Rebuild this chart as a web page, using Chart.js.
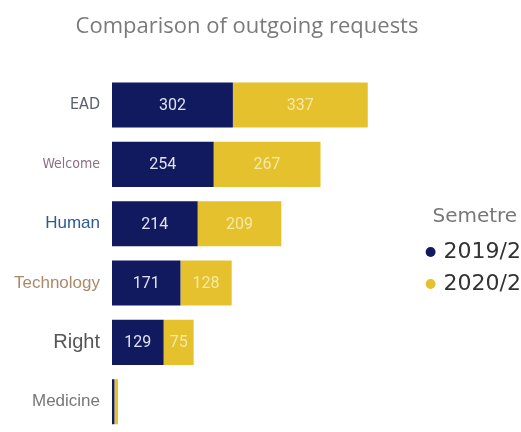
<!DOCTYPE html>
<html>
<head>
<meta charset="utf-8">
<script src="https://cdn.jsdelivr.net/npm/chart.js@4"></script>
<style>
  html, body { margin: 0; padding: 0; background: #fff; overflow: hidden; }
  #wrap { position: relative; width: 531px; height: 445px; }
</style>
</head>
<body>
<div id="wrap"><canvas id="requestsChart"></canvas></div>
<script>
// outgoing requests per area, by semester
const categories = ['EAD', 'Welcome', 'Human', 'Technology', 'Right', 'Medicine'];
const semesters = ['2019/2', '2020/2'];
const requests2019 = [302, 254, 214, 171, 129, 6];
const requests2020 = [337, 267, 209, 128, 75, 9];

// each area label has its own look
const tickColors = ['#5a6070', '#8b6f86', '#2e5b8f', '#a88a68', '#555555', '#777777'];
const tickFonts = [
  { family: 'DejaVu Sans Condensed', size: 16 },
  { family: 'DejaVu Sans Condensed', size: 14 },
  { family: 'Liberation Sans', size: 17 },
  { family: 'Liberation Sans', size: 17 },
  { family: 'Liberation Sans', size: 20 },
  { family: 'Liberation Sans', size: 17 }
];

// write the value in the middle of each bar segment
const barValues = {
  id: 'barValues',
  afterDatasetsDraw(chart) {
    const ctx = chart.ctx;
    ctx.save();
    ctx.font = '16px Roboto';
    ctx.textAlign = 'center';
    ctx.textBaseline = 'middle';
    chart.data.datasets.forEach((ds, i) => {
      chart.getDatasetMeta(i).data.forEach((bar, j) => {
        const w = Math.abs(bar.x - bar.base);
        if (w < 20) return;
        ctx.fillStyle = ds.valueColor;
        ctx.fillText(ds.data[j], (bar.x + bar.base) / 2, bar.y + 1);
      });
    });
    ctx.restore();
  }
};

const ctx = document.getElementById('requestsChart').getContext('2d');
const requestsChart = new Chart(ctx, {
  type: 'bar',
  data: {
    labels: categories,
    datasets: [
      { label: semesters[0], data: requests2019, backgroundColor: '#111a5e', valueColor: '#dfe2f2' },
      { label: semesters[1], data: requests2020, backgroundColor: '#e4c12d', valueColor: '#f7e9a6' }
    ]
  },
  options: {
    indexAxis: 'y',
    responsive: true,
    maintainAspectRatio: false,
    animation: false,
    datasets: { bar: { barPercentage: 1, categoryPercentage: 0.76 } },
    layout: { padding: { left: -37, right: 0, top: 0, bottom: 0 } },
    scales: {
      x: { stacked: true, display: false, min: 0, max: 766 },
      y: {
        stacked: true,
        grid: { display: false },
        border: { display: false },
        ticks: {
          padding: 4,
          color: c => tickColors[c.index],
          font: c => tickFonts[c.index]
        },
        afterFit(scale) { scale.width = 149; }
      }
    },
    plugins: {
      title: {
        display: true,
        text: 'Comparison of outgoing requests',
        color: '#7a7a7a',
        font: { family: 'Open Sans', size: 22, weight: 'normal' },
        padding: { top: 14, bottom: 35 }
      },
      legend: {
        position: 'right',
        align: 'start',
        title: {
          display: true,
          text: 'Semetre',
          color: '#777',
          position: 'center',
          font: { family: 'DejaVu Sans', size: 20 },
          padding: { top: 207, bottom: 0 }
        },
        labels: {
          usePointStyle: true,
          pointStyle: 'circle',
          boxWidth: 4,
          boxHeight: 7,
          padding: 10,
          color: '#333',
          font: { family: 'DejaVu Sans', size: 22 }
        }
      },
      tooltip: { enabled: false }
    }
  },
  plugins: [barValues]
});
</script>
</body>
</html>
